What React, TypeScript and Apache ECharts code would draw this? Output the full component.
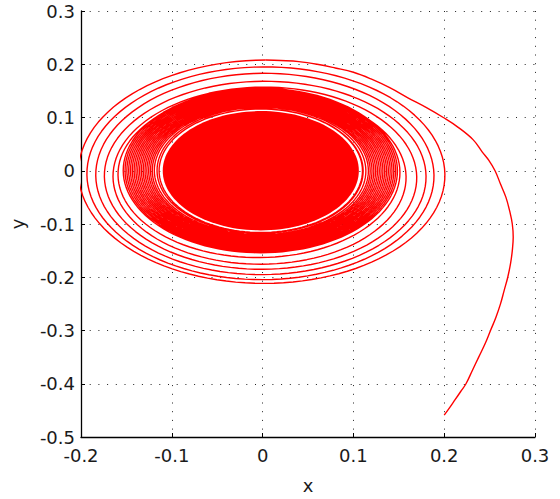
import { useEffect, useRef } from "react";
import * as echarts from "echarts";

// Transient tail (start at bottom-right, rising to join the outer ring)
const tailX = [0.200, 0.206, 0.212, 0.218, 0.224, 0.231, 0.238, 0.245, 0.251, 0.257, 0.262, 0.266, 0.270, 0.273, 0.275, 0.276, 0.275, 0.272, 0.268, 0.262, 0.256, 0.249, 0.242, 0.232, 0.215, 0.199, 0.180, 0.160, 0.140, 0.120, 0.100, 0.080, 0.060, 0.040, 0.020, 0.0035];
const tailY = [-0.459, -0.445, -0.430, -0.415, -0.400, -0.375, -0.350, -0.325, -0.300, -0.275, -0.250, -0.225, -0.200, -0.175, -0.150, -0.125, -0.100, -0.075, -0.050, -0.025, 0.000, 0.020, 0.035, 0.058, 0.082, 0.100, 0.119, 0.137, 0.156, 0.172, 0.185, 0.193, 0.200, 0.205, 0.207, 0.208];

// Successive loops of the attractor, outer to inner (centre and half-widths)
const ringCx = [0.0035, 0.0005, 0.0, 0.0005, 0.0005, -0.003, -0.002, -0.002, -0.002, -0.002, -0.002, -0.002, -0.002, -0.002, -0.002, -0.002, -0.002, -0.002, -0.002, -0.002, -0.002, -0.002, -0.002, -0.002, -0.002, -0.002];
const ringCy = [-0.003, -0.007, -0.0085, -0.011, -0.0115, -0.0105, 0.0, 0.0, 0.0, 0.0, 0.0, 0.0, 0.0, 0.0, 0.0, 0.0, 0.0, 0.0, 0.0, 0.0, 0.0, 0.0, 0.0, 0.0, 0.0, 0.0];
const ringRx = [0.2085, 0.1965, 0.186, 0.1775, 0.1665, 0.158, 0.152, 0.150, 0.148, 0.146, 0.144, 0.142, 0.140, 0.138, 0.136, 0.134, 0.132, 0.130, 0.128, 0.126, 0.124, 0.122, 0.120, 0.118, 0.115, 0.112];
const ringRy = [0.211, 0.202, 0.1915, 0.179, 0.1685, 0.1605, 0.155, 0.153, 0.151, 0.149, 0.147, 0.145, 0.143, 0.141, 0.139, 0.137, 0.135, 0.133, 0.131, 0.129, 0.127, 0.125, 0.123, 0.121, 0.119, 0.116];

// Densely filled core: [cx, cy, rx, ry]
const coreData = [[-0.002, 0.0, 0.108, 0.112]];

const xRange = [-0.2, 0.3];
const yRange = [-0.5, 0.3];
const tickStep = 0.1;

function buildLoops(): number[][] {
  const pts: number[][] = [];
  const n = ringRx.length;
  const P = 120;
  for (let k = 0; k < n; k++) {
    const k2 = Math.min(k + 1, n - 1);
    for (let j = 0; j <= (k === n - 1 ? P : P - 1); j++) {
      const t = j / P;
      const cx = ringCx[k] + (ringCx[k2] - ringCx[k]) * t;
      const cy = ringCy[k] + (ringCy[k2] - ringCy[k]) * t;
      const rx = ringRx[k] + (ringRx[k2] - ringRx[k]) * t;
      const ry = ringRy[k] + (ringRy[k2] - ringRy[k]) * t;
      const th = Math.PI / 2 + 2 * Math.PI * t;
      pts.push([cx + rx * Math.cos(th), cy + ry * Math.sin(th)]);
    }
  }
  return pts;
}

const FONT = "DejaVu Sans";
const fmt = (v: number) => String(Math.round(v * 10) / 10);
const RED = "#ff0000";

export default function App() {
  const ref = useRef<HTMLDivElement>(null);
  useEffect(() => {
    if (!ref.current) return;
    const chart = echarts.init(ref.current, null, { renderer: "svg" });
    const axisCommon = {
      type: "value" as const,
      interval: tickStep,
      nameLocation: "middle" as const,
      nameTextStyle: { fontSize: 18, color: "#1a1a1a", fontFamily: FONT },
      axisLine: { show: true, onZero: false, lineStyle: { color: "#000", width: 1.3 } },
      axisTick: { show: true, inside: true, length: 4, lineStyle: { color: "#000", width: 1 } },
      splitLine: { show: true, lineStyle: { color: "#222", width: 1, type: [1, 7.7] } },
    };
    chart.setOption({
      animation: false,
      backgroundColor: "#ffffff",
      grid: { left: 81, right: 25, top: 11, bottom: 62 },
      xAxis: {
        ...axisCommon,
        min: xRange[0],
        max: xRange[1],
        name: "x",
        nameGap: 39,
        axisLabel: { margin: 9, fontSize: 18, color: "#1a1a1a", fontFamily: FONT, formatter: fmt },
      },
      yAxis: {
        ...axisCommon,
        min: yRange[0],
        max: yRange[1],
        name: "y",
        nameGap: 55,
        axisLabel: { margin: 6, fontSize: 18, color: "#1a1a1a", fontFamily: FONT, formatter: fmt },
      },
      series: [
        {
          type: "custom",
          silent: true,
          clip: true,
          data: coreData,
          encode: { x: 0, y: 1 },
          renderItem: (params: any, api: any) => {
            const c = api.coord([api.value(0), api.value(1)]);
            const s = api.size([api.value(2), api.value(3)]);
            return {
              type: "ellipse",
              shape: { cx: c[0], cy: c[1], rx: s[0], ry: s[1] },
              style: { fill: RED },
            };
          },
        },
        {
          type: "line",
          silent: true,
          showSymbol: false,
          symbol: "none",
          clip: true,
          smooth: 0.4,
          data: tailX.map((x, i) => [x, tailY[i]]),
          lineStyle: { color: RED, width: 1.4 },
        },
        {
          type: "line",
          silent: true,
          showSymbol: false,
          symbol: "none",
          clip: true,
          data: buildLoops(),
          lineStyle: { color: RED, width: 1.4 },
        },
      ],
    });
    return () => chart.dispose();
  }, []);
  return <div ref={ref} style={{ position: "absolute", left: 0, top: 0, width: 560, height: 499 }} />;
}
